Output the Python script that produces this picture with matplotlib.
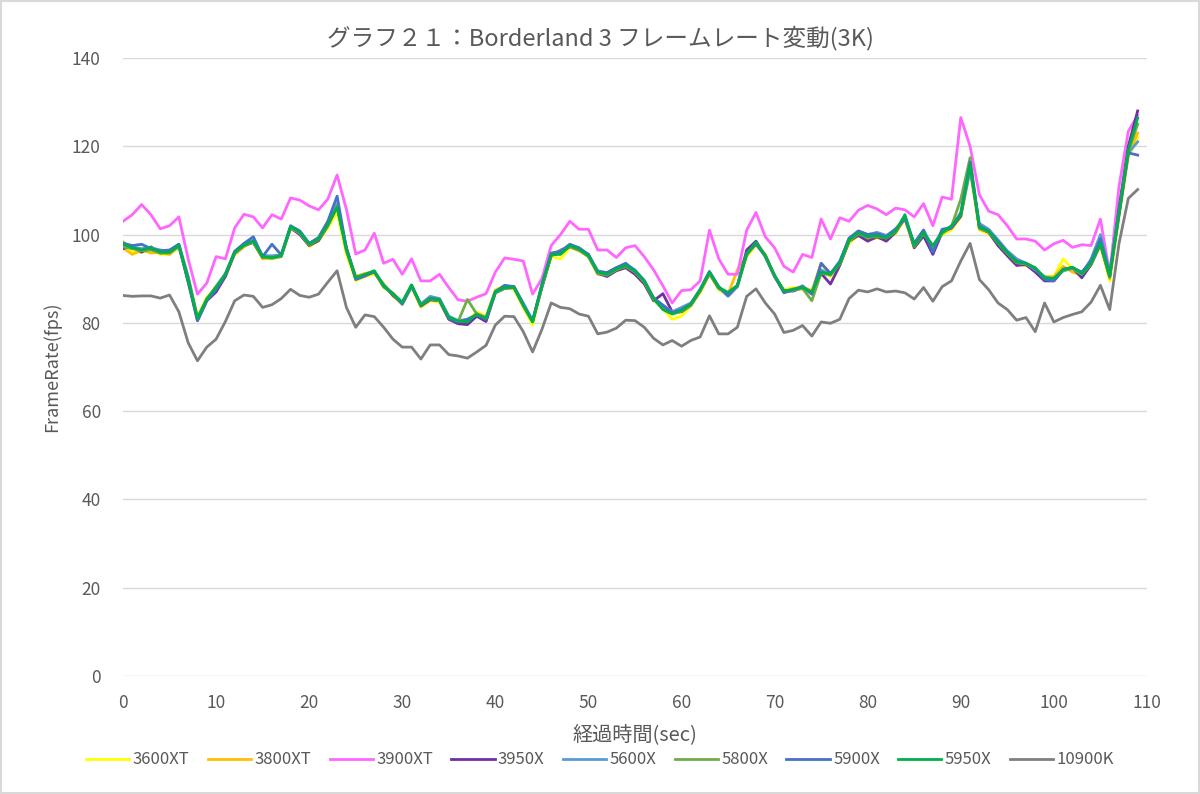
import numpy as np
import matplotlib
matplotlib.use("Agg")
import matplotlib.pyplot as plt
from matplotlib.patches import Rectangle

plt.rcParams["font.family"] = ["Noto Sans CJK JP", "DejaVu Sans"]

# 経過時間 (sec), 1 秒刻み
t = np.arange(0, 110)

s3600xt = [98.5, 96, 96, 96.5, 95.5, 95.5, 97.5, 90.5, 81.5, 85.8,
           87.5, 90.5, 95.8, 97.8, 98.2, 94.5, 94.5, 95, 101.5, 100.8,
           97.3, 98.5, 101.5, 105, 95.5, 89.5, 90.5, 91, 89, 86,
           84.2, 88, 83.5, 85, 84.7, 80.8, 80.5, 80.5, 82.5, 81.5,
           87.5, 88.5, 87.5, 83.5, 79.5, 88, 95, 94.5, 97, 96.5,
           95, 91.2, 91.2, 91.8, 92.5, 91.5, 89.2, 85.2, 83.2, 80.8,
           81.5, 83.8, 86.8, 91, 87.5, 86.2, 88.5, 95, 97.5, 95.5,
           90.5, 87.5, 88, 87.5, 86.8, 91.5, 90.5, 93.5, 98, 99.8,
           98.8, 99.2, 99, 100.2, 103.5, 97, 99.8, 97.5, 100, 101,
           104, 114.5, 101, 100.2, 97.8, 95.5, 93.2, 93.2, 92, 90.5,
           90.5, 94.5, 92.2, 90.5, 93.5, 97.5, 89.5, 104, 117.5, 122]

s3800xt = [97, 95.5, 96.5, 95.8, 96, 95.5, 97.2, 90, 80.8, 85.5,
           88.3, 90.8, 95.5, 97.2, 98.5, 94.5, 95, 95.5, 101.5, 100.2,
           97.5, 98.8, 102, 106, 96.8, 90.5, 91.2, 91.5, 88, 86.8,
           84.5, 88.2, 84, 85.3, 85, 81, 80.2, 80.5, 82.2, 81.3,
           87.3, 88.2, 88.3, 84.2, 80.5, 88.3, 95.2, 95.8, 97.2, 96.3,
           95, 91, 90.8, 92, 92.8, 91.3, 89.2, 85.8, 83.5, 82,
           82.5, 83.9, 87.3, 91.2, 88.2, 86.5, 92, 95.2, 98, 95.5,
           90.6, 87, 87.8, 88.2, 87.3, 93.5, 90.8, 93.2, 98.5, 100,
           99, 99.5, 99, 100.5, 103.5, 97.2, 100, 97, 100.5, 101.5,
           104, 115, 101.2, 100.5, 97.8, 95.5, 93.5, 93, 92.2, 90.3,
           90.5, 92.8, 91.5, 90.8, 93.2, 97.8, 90, 104.5, 118, 123]

s3900xt = [103, 104.5, 106.8, 104.5, 101.3, 102, 104, 94.5, 86.5, 89,
           95, 94.5, 101.5, 104.6, 104, 101.5, 104.5, 103.5, 108.3, 107.8,
           106.5, 105.6, 108, 113.5, 105.7, 95.6, 96.5, 100.3, 93.5, 94.4,
           91, 94.5, 89.5, 89.5, 91, 88, 85.2, 84.9, 85.8, 86.6,
           91.5, 94.7, 94.4, 94, 86.5, 90, 97.5, 100, 103, 101.2,
           101.2, 96.5, 96.5, 94.8, 97, 97.5, 95, 92, 88.4, 84.5,
           87.3, 87.5, 89.5, 101, 94.5, 91, 91, 101, 105, 99.5,
           97, 92.8, 91.5, 95.5, 94.8, 103.5, 99, 103.8, 103, 105.5,
           106.6, 105.8, 104.5, 106, 105.6, 104, 107, 102, 108.5, 108,
           126.5, 120, 109, 105.3, 104.5, 102, 99, 99, 98.5, 96.5,
           97.9, 98.7, 97.1, 97.7, 97.5, 103.5, 91, 111, 123.4, 127]

s3950x = [96.8, 97.5, 96, 97.2, 95.8, 96.2, 97.5, 89.2, 80.5, 85,
          87, 90.5, 95.8, 97.5, 98.2, 94.8, 95, 95.3, 101.5, 100,
          97.5, 98.6, 102, 106.5, 97, 90.2, 90.8, 91.5, 88.5, 86.2,
          84.5, 88.5, 83.8, 85.2, 85, 80.8, 79.8, 79.6, 81.5, 80.3,
          86.8, 87.8, 88, 84, 80.3, 88, 95.3, 95.8, 97.3, 96.5,
          95.5, 91.2, 90.5, 91.8, 92.5, 91, 88.8, 85, 86.6, 82.5,
          82.5, 84, 87.2, 91.2, 87.8, 86.7, 88.2, 96.5, 98.5, 95,
          90.5, 87.3, 87.2, 88, 86.8, 91.2, 88.8, 93, 98.5, 99.8,
          98.5, 99.5, 98.5, 100.5, 104, 97, 99.7, 95.5, 100.5, 101.5,
          104.2, 116, 101.5, 100.5, 97.5, 95.2, 93, 93.2, 91.5, 89.5,
          89.5, 92, 92.5, 90.2, 93.2, 97.8, 90.5, 106, 120, 128]

s5600x = [98.2, 97.2, 96.8, 97, 96.5, 96.2, 97.8, 90.5, 81.2, 85.2,
          88.2, 91.2, 96.2, 97.8, 98.7, 95.2, 95.2, 95.3, 101.6, 100.6,
          98, 99.2, 102.8, 107, 96.8, 90, 90.8, 91.7, 88.5, 86.5,
          84.5, 88.3, 84.3, 86, 85.5, 81.5, 80.5, 80.8, 81.8, 81.2,
          87.2, 88.3, 88.2, 84.5, 80.5, 88.2, 95.5, 96, 97.5, 96.8,
          95.4, 91.8, 91.3, 92.5, 93.2, 92, 89.5, 85.5, 84, 82.5,
          83.5, 84.5, 87.5, 91.6, 88, 86, 88.2, 95.5, 98, 95.3,
          90.5, 87, 87.3, 88.4, 86.5, 92, 91, 94, 99, 100.8,
          100, 100.5, 99.8, 101.2, 103.8, 98, 101, 97, 101, 101.8,
          104.5, 114.5, 102.5, 101.2, 98.8, 96.3, 94.5, 93.5, 92, 90.5,
          89.8, 91.8, 92.3, 91, 94.5, 100, 91.5, 105, 118.5, 121]

s5800x = [97.2, 96.8, 96.3, 96.5, 95.8, 95.8, 97.3, 90, 81, 85.2,
          88.2, 91, 95.8, 97.5, 98.3, 94.8, 94.6, 95, 101.5, 100.3,
          97.6, 98.9, 102, 106.5, 96.3, 90.2, 90.8, 91.5, 88.2, 86.4,
          84.5, 88.5, 84, 85.4, 85, 81.2, 80.3, 85.3, 82, 81,
          86.8, 87.8, 88, 83.8, 80.3, 88.3, 95.2, 96.5, 97.3, 96.5,
          95, 91.2, 90.8, 92, 92.8, 91.5, 89.2, 85.3, 83.3, 82.2,
          82.6, 84, 87.2, 91.2, 87.8, 86.7, 88.3, 95.4, 98, 95,
          90.5, 87, 87.4, 87.8, 85, 91.3, 90.8, 93.3, 98.5, 100.2,
          99.3, 99.6, 99.2, 100.6, 104, 97.3, 100.2, 97.3, 100.2, 101.8,
          108, 117.4, 101.4, 100.6, 98, 95.7, 93.6, 93.3, 92.3, 90,
          90, 91.8, 92.4, 91, 93.3, 97.8, 90.3, 104.5, 118.8, 125]

s5900x = [98, 97.5, 97.8, 96.8, 96.3, 96.5, 97.8, 90, 80.5, 85,
          87.5, 90.8, 96.2, 98, 99.5, 95, 97.8, 95.4, 102, 100.8,
          98, 99.3, 103, 108.7, 96.8, 89.8, 90.6, 91.6, 88.6, 86.5,
          84.2, 88.3, 84, 85.6, 85.3, 81, 80.2, 80.8, 81.8, 80.8,
          87, 88.5, 88.2, 84.2, 80.4, 88.8, 95.8, 96.2, 97.8, 97,
          95.5, 91.6, 91.4, 92.5, 93.5, 91.8, 89.6, 85.6, 84, 82.3,
          83, 84.3, 87.6, 91.6, 88.2, 86.2, 88.5, 95.8, 97.8, 95.2,
          90.6, 86.8, 87.5, 88.2, 86.5, 93.5, 91.2, 93.8, 99.2, 100.8,
          100, 100.2, 99.5, 101.3, 103.5, 98, 101, 96, 101.2, 101.5,
          105, 116.4, 102, 100.8, 98.5, 96, 94, 93.5, 92.3, 89.8,
          89.5, 92.2, 92.5, 91.5, 94, 99, 91, 104.5, 118.5, 118]

s5950x = [97.8, 97, 96.5, 97, 96, 96, 97.5, 89.5, 81, 85.4,
          88, 91, 96, 97.6, 98.5, 95, 94.8, 95.2, 101.8, 100.5,
          97.8, 99, 102.3, 106.2, 96.5, 90.3, 91, 91.8, 88.3, 86.6,
          84.7, 88.6, 84, 85.5, 85.2, 81.3, 80.4, 80.2, 82, 81,
          87, 88, 88, 84, 80.2, 88.5, 95.5, 95.5, 97.5, 96.7,
          95.2, 91.5, 91, 92.2, 93, 91.7, 89.5, 85.5, 83, 82,
          82.8, 84.2, 87.5, 91.5, 88, 86.9, 88.5, 95.6, 98.3, 95.2,
          90.8, 87.2, 87.6, 88, 87, 91.5, 91, 93.5, 98.8, 100.4,
          99.5, 99.8, 99.3, 100.8, 104.5, 97.5, 100.4, 97.5, 100.5, 102,
          104.5, 115.8, 101.6, 100.8, 98.1, 95.9, 93.8, 93.5, 92.5, 90.2,
          90.1, 92, 92.6, 91.2, 93.5, 98, 90.5, 105, 119.2, 126.4]

s10900k = [86.2, 86, 86.1, 86.1, 85.6, 86.3, 82.5, 75.5, 71.4, 74.5,
           76.3, 80.3, 85, 86.3, 86, 83.5, 84.1, 85.5, 87.6, 86.2,
           85.8, 86.5, 89.2, 91.8, 83.5, 79, 81.8, 81.4, 79, 76.3,
           74.5, 74.5, 71.8, 75, 75, 72.8, 72.5, 72, 73.4, 74.9,
           79.5, 81.5, 81.4, 78, 73.4, 78.5, 84.5, 83.5, 83.2, 82,
           81.5, 77.5, 77.9, 78.8, 80.6, 80.5, 79, 76.5, 75, 76,
           74.7, 76, 76.8, 81.6, 77.5, 77.5, 79, 86, 87.7, 84.5,
           82, 77.8, 78.3, 79.4, 77, 80.2, 79.9, 80.8, 85.5, 87.4,
           87, 87.7, 87, 87.2, 86.8, 85.4, 88, 84.9, 88.2, 89.5,
           94, 98, 89.8, 87.5, 84.5, 83, 80.6, 81.2, 78, 84.5,
           80.2, 81.2, 81.9, 82.5, 84.7, 88.5, 83, 98, 108.2, 110.2]

names = ["3600XT", "3800XT", "3900XT", "3950X", "5600X",
         "5800X", "5900X", "5950X", "10900K"]
series = [s3600xt, s3800xt, s3900xt, s3950x, s5600x,
          s5800x, s5900x, s5950x, s10900k]
colors = ["#FFFF00", "#FFC000", "#FF66FF", "#7030A0", "#5B9BD5",
          "#70AD47", "#4472C4", "#00B050", "#7F7F7F"]

fig = plt.figure(figsize=(12, 7.94), dpi=100)
ax = fig.add_axes([0.1025, 0.1486, 0.8533, 0.7784])

for name, vals, c in zip(names, series, colors):
    ax.plot(t, vals, color=c, linewidth=2.0, label=name, solid_joinstyle="round")

ax.set_xlim(0, 110)
ax.set_ylim(0, 140)
ax.set_xticks(np.arange(0, 111, 10))
ax.set_yticks(np.arange(0, 141, 20))
ax.grid(axis="y", color="#D9D9D9", linewidth=1.0)
ax.set_axisbelow(True)
for sp in ax.spines.values():
    sp.set_visible(False)
ax.tick_params(length=0, labelsize=12.5, labelcolor="#595959")
ax.tick_params(axis="x", pad=13)
ax.tick_params(axis="y", pad=16)

ax.set_xlabel("経過時間(sec)", fontsize=14.5, color="#595959", labelpad=9)
ax.set_ylabel("FrameRate(fps)", fontsize=13, color="#595959", labelpad=8)
fig.text(0.5, 0.952, "グラフ２１：Borderland 3 フレームレート変動(3K)",
         ha="center", va="center", fontsize=17, color="#595959")

fig.legend(loc="center", bbox_to_anchor=(0.5, 0.043), ncol=9, frameon=False,
           fontsize=12, handlelength=2.6, handletextpad=0.2, columnspacing=1.1,
           labelcolor="#595959")

fig.patches.append(Rectangle((0.001, 0.001), 0.998, 0.998, transform=fig.transFigure,
                             fill=False, edgecolor="#D9D9D9", linewidth=1.5))

fig.savefig("out.png", dpi=100)
